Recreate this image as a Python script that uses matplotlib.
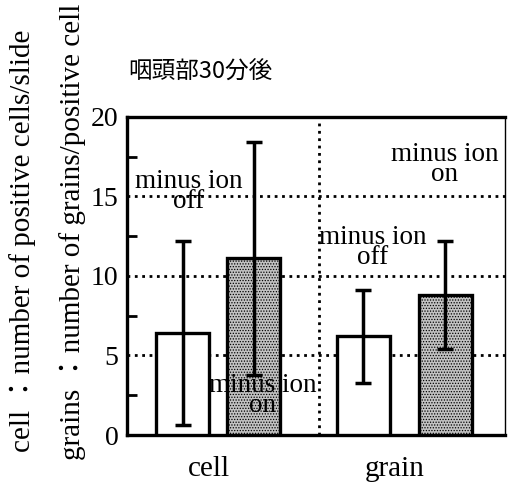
import matplotlib.pyplot as plt
import numpy as np

groups = ['cell', 'grain']
off_vals = [6.4, 6.2]
off_err = [5.8, 2.9]
on_vals = [11.1, 8.8]
on_err = [7.3, 3.4]
title = '咽頭部30分後'
ylabel1 = 'cell ：number of positive cells/slide'
ylabel2 = 'grains ：number of grains/positive cell'

serif = ['Liberation Serif', 'Noto Sans CJK JP', 'DejaVu Serif']
plt.rcParams['hatch.linewidth'] = 0.6

fig = plt.figure(figsize=(5.08, 4.82), dpi=100)
ax = fig.add_axes([0.25, 0.0975, 0.744, 0.66])

x = np.arange(len(groups))
offs = [0.19, 0.22]
w = 0.285
ekw = dict(elinewidth=2.5, capsize=5.5, capthick=2.5, ecolor='black')
for i in range(len(groups)):
    ax.bar(x[i] - offs[i], off_vals[i], w, yerr=off_err[i], color='white',
           edgecolor='black', linewidth=2.4, error_kw=ekw, zorder=3)
    ax.bar(x[i] + offs[i], on_vals[i], w, yerr=on_err[i], color='#c2c2c2',
           edgecolor='black', linewidth=2.4, hatch='......', error_kw=ekw, zorder=3)

ax.set_xlim(-0.49, 1.54)
ax.set_ylim(0, 20)
ax.set_yticks([0, 5, 10, 15, 20])
ax.set_yticks([2.5, 7.5, 12.5, 17.5], minor=True)
ax.tick_params(axis='y', which='major', length=0, pad=6, labelsize=20)
ax.tick_params(axis='y', which='minor', direction='in', length=7, width=2)
for t in ax.get_yticklabels():
    t.set_fontfamily(serif)
ax.set_xticks(x - 0.05)
ax.set_xticklabels(groups, fontsize=21, family=serif)
ax.tick_params(axis='x', length=0, pad=15)

for v in [5, 10, 15]:
    ax.axhline(v, color='black', linestyle=':', linewidth=2, zorder=1)
ax.axvline(0.54, color='black', linestyle=':', linewidth=2, zorder=1)

for s in ax.spines.values():
    s.set_linewidth(2.4)
ax.spines['right'].set_linewidth(1)

tkw = dict(ha='center', va='center', fontsize=19.5, family=serif, linespacing=0.75, zorder=4)
ax.text(-0.16, 15.3, 'minus ion\noff', **tkw)
ax.text(0.24, 2.5, 'minus ion\non', **tkw)
ax.text(0.83, 11.8, 'minus ion\noff', **tkw)
ax.text(1.215, 17.0, 'minus ion\non', **tkw)

fig.text(0.252, 0.85, title, fontsize=17, va='center', family=['Noto Sans CJK JP', 'DejaVu Sans'])
fig.text(0.045, 0.5, ylabel1, rotation=90, ha='center', va='center', fontsize=21, family=serif)
fig.text(0.142, 0.519, ylabel2, rotation=90, ha='center', va='center', fontsize=21, family=serif)

plt.savefig('out.png', dpi=100)
